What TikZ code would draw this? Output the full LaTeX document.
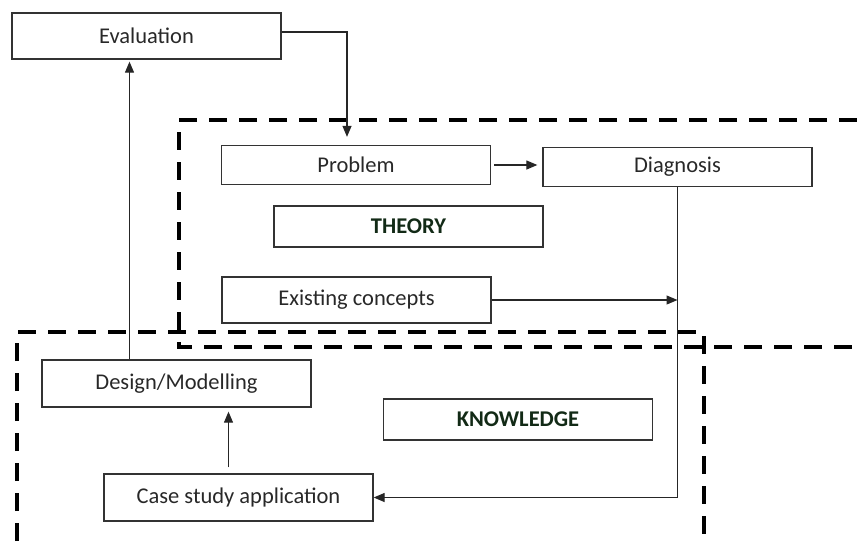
\documentclass[tikz,border=0pt]{standalone}
\usepackage{fontspec}
\setmainfont{Carlito}
\usepackage{tikz}
\usetikzlibrary{arrows.meta, positioning, calc}

\definecolor{txtgray}{RGB}{40,40,40}
\definecolor{darkgreen}{RGB}{18,42,22}

\begin{document}
\begin{tikzpicture}[
    x=1pt, y=-1pt,
    box/.style      = {draw=black!80, line width=1.3pt, minimum width=269pt,
                       minimum height=40pt, inner sep=0pt, align=center,
                       text=txtgray, font=\fontsize{22.5}{26}\selectfont},
    labelbox/.style = {box, text=darkgreen, font=\fontsize{22.5}{26}\selectfont\bfseries},
    arr/.style      = {-{Triangle[length=11pt, width=9pt]}, line width=1.2pt, black!85},
    region/.style   = {line width=4pt, dash pattern=on 18pt off 12pt, black},
]
\useasboundingbox (0,0) rectangle (857,541);

%% -- regions -------------------------------------------------------------
\draw[region] (857,120) -- (179,120) -- (179,347) -- (857,347);
\draw[region] (17,541) -- (17,332) -- (704,332) -- (704,541);

%% -- boxes ---------------------------------------------------------------
\node[box, minimum height=46pt] (eval)   at (146.5,36)  {Evaluation};
\node[box, minimum height=39pt] (prob)   at (356,165)   {Problem};
\node[box, minimum height=39pt] (diag)   at (677.5,167) {Diagnosis};
\node[labelbox, minimum height=41pt] (theory) at (408.5,226.5) {THEORY};
\node[box, minimum height=46pt] (exist)  at (356.5,300) {Existing concepts};
\node[box, minimum height=47pt] (design) at (176.5,383.5) {Design/Modelling};
\node[labelbox, minimum height=41pt] (know) at (518,419.5) {KNOWLEDGE};
\node[box, minimum height=47pt] (case)   at (238.5,497.5) {Case study application};

%% -- connectors ----------------------------------------------------------
\draw[arr] ([yshift=4pt]eval.east) -| ([xshift=-9pt, yshift=8pt]prob.north);
\draw[arr, shorten <=3pt, shorten >=5pt] (prob.east) -- (prob.east -| diag.west);
\draw[arr] (diag.south) |- (case.east);
\draw[arr] (exist.east) -- (exist.east -| diag.south);
\draw[arr, shorten <=6pt, shorten >=4pt] ([xshift=-10pt]case.north)
    -- ([xshift=-10pt]case.north |- design.south);
\draw[arr, shorten >=2pt] ([xshift=-47pt]design.north)
    -- ([xshift=-47pt]design.north |- eval.south);

\end{tikzpicture}
\end{document}
